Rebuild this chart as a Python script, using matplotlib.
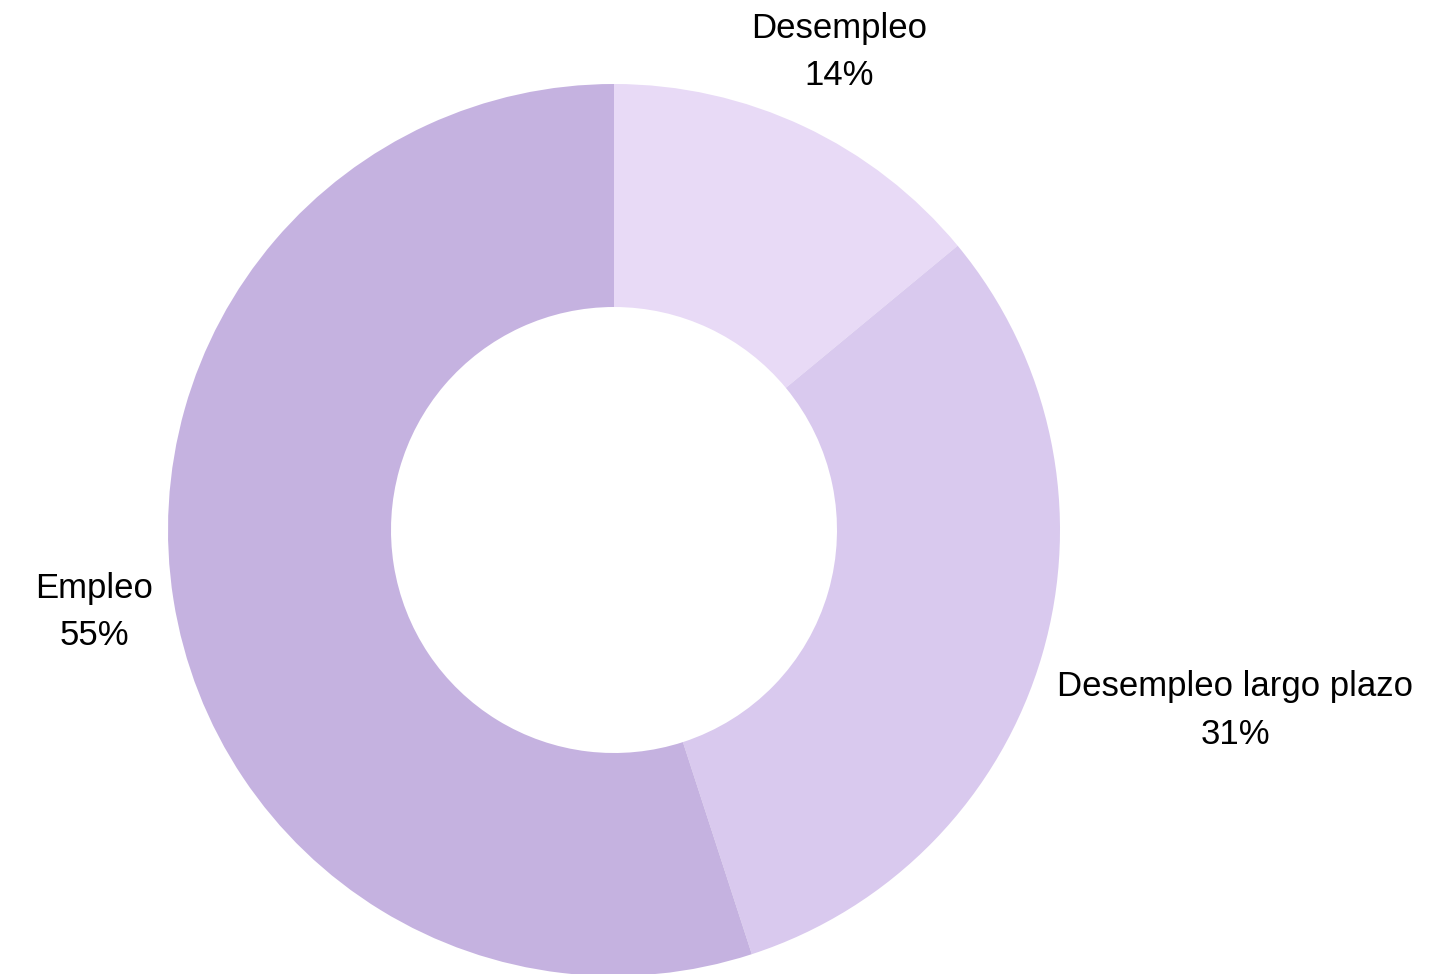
import numpy as np
import matplotlib.pyplot as plt

plt.rcParams['font.family'] = ['Liberation Sans', 'DejaVu Sans']

labels = ['Desempleo', 'Desempleo largo plazo', 'Empleo']
values = [14, 31, 55]
colors = ['#E8DAF6', '#D9C9EE', '#C5B2E0']
label_dist = [1.185, 1.45, 1.18]

fig = plt.figure(figsize=(14.53, 9.74), dpi=100)
ax = fig.add_axes([168 / 1453, -2 / 974, 892 / 1453, 892 / 974])

wedges, _ = ax.pie(values, colors=colors, startangle=90, counterclock=False,
                   radius=1, wedgeprops=dict(width=0.5, linewidth=0))

for w, lab, v, d in zip(wedges, labels, values, label_dist):
    ang = np.deg2rad((w.theta1 + w.theta2) / 2)
    ax.text(d * np.cos(ang), d * np.sin(ang), f'{lab}\n{v}%',
            ha='center', va='center', fontsize=25, linespacing=1.55,
            color='black', clip_on=False)

ax.set_xlim(-1, 1)
ax.set_ylim(-1, 1)
ax.set_aspect('equal')
ax.axis('off')

fig.savefig('out.png', dpi=100)
